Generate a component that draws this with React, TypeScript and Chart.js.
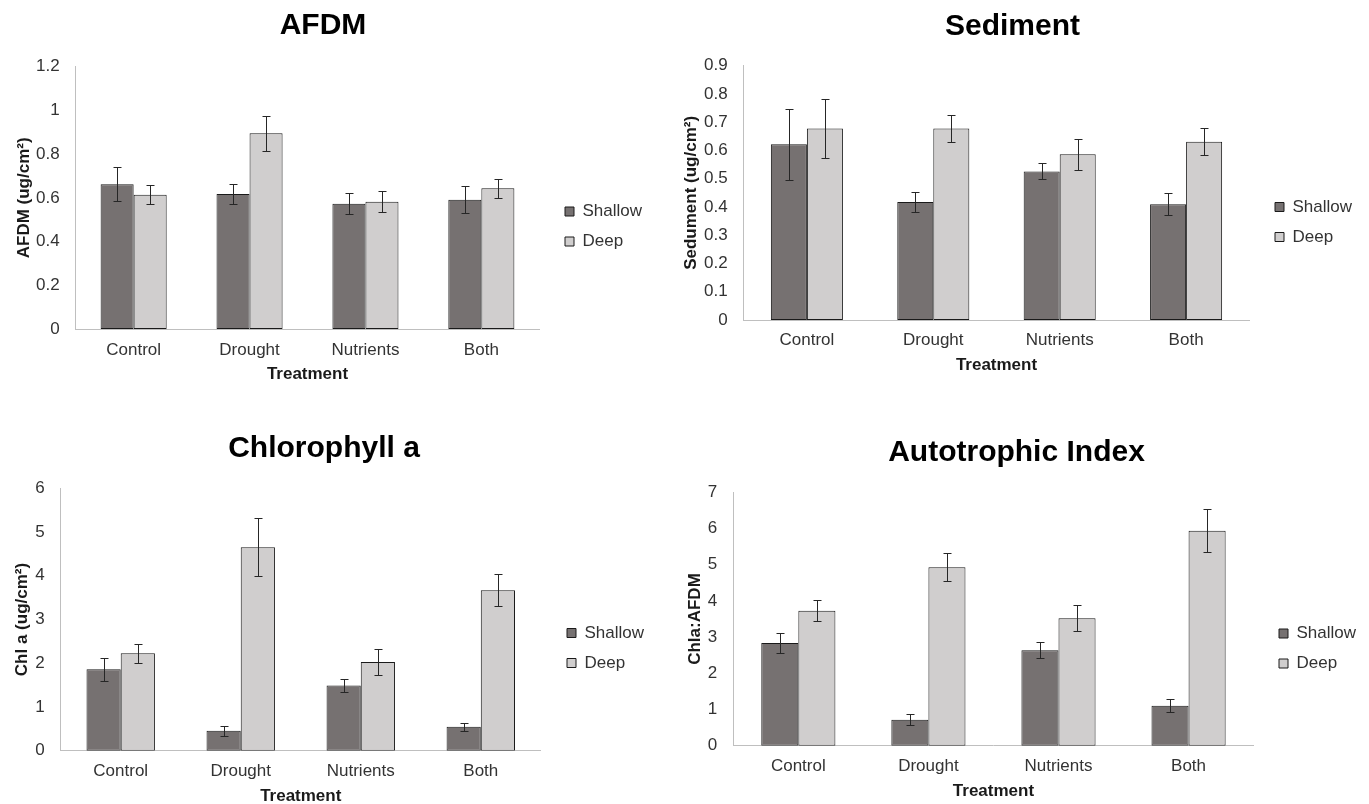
import React, { useEffect, useRef } from "react";
import { Chart, registerables } from "chart.js";

Chart.register(...registerables);

// ---------------- data ----------------
const categories = ["Control", "Drought", "Nutrients", "Both"];
const seriesNames = ["Shallow", "Deep"];

const afdmShallow = [0.662, 0.618, 0.573, 0.591];
const afdmShallowErr = [0.078, 0.047, 0.048, 0.061];
const afdmDeep = [0.614, 0.896, 0.582, 0.644];
const afdmDeepErr = [0.043, 0.08, 0.049, 0.043];
const afdmAxis = [0, 1.2, 0.2]; // min, max, step

const sedShallow = [0.622, 0.418, 0.526, 0.41];
const sedShallowErr = [0.126, 0.035, 0.028, 0.04];
const sedDeep = [0.678, 0.678, 0.587, 0.631];
const sedDeepErr = [0.103, 0.048, 0.055, 0.048];
const sedAxis = [0, 0.9, 0.1];

const chlShallow = [1.86, 0.457, 1.49, 0.549];
const chlShallowErr = [0.27, 0.11, 0.145, 0.09];
const chlDeep = [2.23, 4.65, 2.03, 3.67];
const chlDeepErr = [0.22, 0.66, 0.29, 0.37];
const chlAxis = [0, 6, 1];

const aiShallow = [2.84, 0.72, 2.64, 1.105];
const aiShallowErr = [0.27, 0.15, 0.22, 0.175];
const aiDeep = [3.73, 4.93, 3.52, 5.94];
const aiDeepErr = [0.29, 0.39, 0.36, 0.59];
const aiAxis = [0, 7, 1];

const panelTitles = ["AFDM", "Sediment", "Chlorophyll a", "Autotrophic Index"];
const yTitles = ["AFDM (ug/cm²)", "Sedument (ug/cm²)", "Chl a (ug/cm²)", "Chla:AFDM"];
const xTitle = "Treatment";

// ---------------- styles ----------------
const FONT = "'Liberation Sans', Arial, Helvetica, sans-serif";
const SHALLOW_FILL = "#767171";
const DEEP_FILL = "#D0CECE";
const BAR_BORDER = "#1a1a1a";
const AXIS_LINE = "#BFBFBF";
const TEXT = "#333333";

Chart.defaults.font.family = FONT;

const errorBarPlugin = {
  id: "errorBars",
  afterDatasetsDraw(chart: any, _args: any, opts: any) {
    const errs: number[][] = opts.errors || [];
    const ctx = chart.ctx;
    const yScale = chart.scales.y;
    const cap = 4;
    ctx.save();
    ctx.strokeStyle = "#262626";
    ctx.lineWidth = 1;
    chart.data.datasets.forEach((ds: any, di: number) => {
      const meta = chart.getDatasetMeta(di);
      const e = errs[di] || [];
      meta.data.forEach((bar: any, i: number) => {
        const v = ds.data[i] as number;
        const err = e[i] || 0;
        const x = Math.round(bar.x) + 0.5;
        const yTop = Math.round(yScale.getPixelForValue(v + err)) + 0.5;
        const yBot = Math.round(yScale.getPixelForValue(v - err)) + 0.5;
        ctx.beginPath();
        ctx.moveTo(x, yTop);
        ctx.lineTo(x, yBot);
        ctx.moveTo(x - cap, yTop);
        ctx.lineTo(x + cap, yTop);
        ctx.moveTo(x - cap, yBot);
        ctx.lineTo(x + cap, yBot);
        ctx.stroke();
      });
    });
    ctx.restore();
  },
};

type Layout = {
  x: number; y: number; w: number; h: number;
  titlePadTop: number; titlePadBottom: number;
  yW: number; yTitlePad: number; xH: number; xTitlePad: number; xTickPad: number;
  gap: number;
};

const layouts: Layout[] = [
  { x: -6, y: 0, w: 658, h: 453, titlePadTop: 8, titlePadBottom: 22.7, yW: 81.7, yTitlePad: 20.3, xH: 124, xTitlePad: 68.3, xTickPad: 11, gap: 12.7 },
  { x: 663, y: 0, w: 699, h: 444, titlePadTop: 8.5, titlePadBottom: 21.2, yW: 80.7, yTitlePad: 18.1, xH: 124, xTitlePad: 68.1, xTickPad: 10.5, gap: 12.7 },
  { x: -6, y: 400, w: 660, h: 496, titlePadTop: 31, titlePadBottom: 21.3, yW: 66.7, yTitlePad: 18.3, xH: 145.3, xTitlePad: 89.1, xTickPad: 10.8, gap: 13.2 },
  { x: 667, y: 400, w: 699, h: 497, titlePadTop: 35, titlePadBottom: 21.3, yW: 66.3, yTitlePad: 17.8, xH: 151.3, xTitlePad: 95.1, xTickPad: 10.8, gap: 12.4 },
];

const panelData = [
  { s: afdmShallow, se: afdmShallowErr, d: afdmDeep, de: afdmDeepErr, axis: afdmAxis },
  { s: sedShallow, se: sedShallowErr, d: sedDeep, de: sedDeepErr, axis: sedAxis },
  { s: chlShallow, se: chlShallowErr, d: chlDeep, de: chlDeepErr, axis: chlAxis },
  { s: aiShallow, se: aiShallowErr, d: aiDeep, de: aiDeepErr, axis: aiAxis },
];

const fmtTick = (v: any) => String(parseFloat(Number(v).toFixed(3)));

function Panel({ index }: { index: number }) {
  const ref = useRef<HTMLCanvasElement | null>(null);
  const L = layouts[index];
  useEffect(() => {
    const pd = panelData[index];
    const chart = new Chart(ref.current as HTMLCanvasElement, {
      type: "bar",
      data: {
        labels: categories,
        datasets: [
          {
            label: seriesNames[0],
            data: pd.s,
            backgroundColor: SHALLOW_FILL,
            borderColor: BAR_BORDER,
            borderWidth: 1,
            borderSkipped: false,
            categoryPercentage: 0.57,
            barPercentage: 1,
          },
          {
            label: seriesNames[1],
            data: pd.d,
            backgroundColor: DEEP_FILL,
            borderColor: BAR_BORDER,
            borderWidth: 1,
            borderSkipped: false,
            categoryPercentage: 0.57,
            barPercentage: 1,
          },
        ],
      },
      options: {
        responsive: false,
        animation: false,
        events: [],
        layout: { padding: 0 },
        plugins: {
          tooltip: { enabled: false },
          title: {
            display: true,
            text: panelTitles[index],
            color: "#000000",
            font: { size: 30, weight: "bold", family: FONT },
            padding: { top: L.titlePadTop, bottom: L.titlePadBottom },
          },
          legend: {
            display: true,
            position: "right",
            maxWidth: 100,
            labels: {
              boxWidth: 9,
              boxHeight: 9,
              padding: 13,
              color: TEXT,
              font: { size: 17, family: FONT },
            },
          },
          errorBars: { errors: [pd.se, pd.de] },
        } as any,
        scales: {
          x: {
            type: "category",
            grid: { display: false, drawTicks: false },
            border: { display: true, color: AXIS_LINE, width: 1 },
            ticks: { color: TEXT, font: { size: 17, family: FONT }, padding: L.xTickPad, maxRotation: 0 },
            title: {
              display: true,
              text: xTitle,
              color: "#1a1a1a",
              font: { size: 17, weight: "bold", family: FONT },
              padding: { top: 0, bottom: L.xTitlePad },
            },
            afterFit: (s: any) => { s.height = L.xH; },
          },
          y: {
            type: "linear",
            min: pd.axis[0],
            max: pd.axis[1],
            grid: { display: false, drawTicks: false },
            border: { display: true, color: AXIS_LINE, width: 1 },
            ticks: {
              stepSize: pd.axis[2],
              color: TEXT,
              font: { size: 17, family: FONT },
              padding: 16,
              callback: fmtTick,
            },
            title: {
              display: true,
              text: yTitles[index],
              color: "#1a1a1a",
              font: { size: 17, weight: "bold", family: FONT },
              padding: { top: L.yTitlePad, bottom: 0 },
            },
            afterFit: (s: any) => { s.width = L.yW; },
          },
          gap: {
            type: "linear",
            position: "right",
            display: true,
            grid: { display: false, drawTicks: false },
            border: { display: false },
            ticks: { display: false },
            afterFit: (s: any) => { s.width = L.gap; },
          },
        } as any,
      },
      plugins: [errorBarPlugin],
    } as any);
    return () => chart.destroy();
  }, [index]);

  return (
    <canvas
      ref={ref}
      width={L.w}
      height={L.h}
      style={{ position: "absolute", left: L.x, top: L.y, width: L.w, height: L.h }}
    />
  );
}

export default function App() {
  return (
    <div
      style={{
        position: "fixed",
        left: 0,
        top: 0,
        width: 1369,
        height: 804,
        overflow: "hidden",
        background: "#ffffff",
      }}
    >
      {[0, 1, 2, 3].map((i) => (
        <Panel key={i} index={i} />
      ))}
    </div>
  );
}
